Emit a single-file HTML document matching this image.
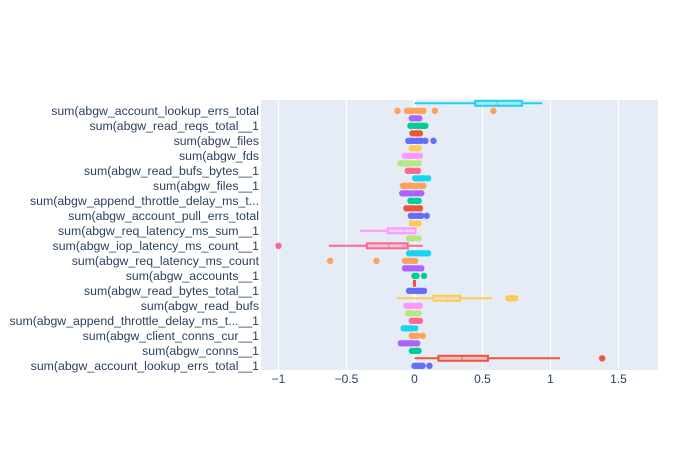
<!DOCTYPE html>
<html><head><meta charset="utf-8"><style>
body{margin:0;background:#fff;}
svg{display:block;font-family:"Liberation Sans",sans-serif;}
</style></head><body>
<svg id="chart" width="700" height="450">
<rect x="0" y="0" width="700" height="450" fill="#fff"/>
<rect x="261" y="100" width="397" height="270" fill="#e5ecf6"/>
<g id="grid"></g><g id="marks"></g><g id="xticks"></g><g id="ylabels"></g>
</svg>
<script>
const labels = ["sum(abgw_account_lookup_errs_total","sum(abgw_read_reqs_total__1","sum(abgw_files","sum(abgw_fds","sum(abgw_read_bufs_bytes__1","sum(abgw_files__1","sum(abgw_append_throttle_delay_ms_t...","sum(abgw_account_pull_errs_total","sum(abgw_req_latency_ms_sum__1","sum(abgw_iop_latency_ms_count__1","sum(abgw_req_latency_ms_count","sum(abgw_accounts__1","sum(abgw_read_bytes_total__1","sum(abgw_read_bufs","sum(abgw_append_throttle_delay_ms_t...__1","sum(abgw_client_conns_cur__1","sum(abgw_conns__1","sum(abgw_account_lookup_errs_total__1"];
const xTicks = [-1,-0.5,0,0.5,1,1.5];
const xTickLabels = ["\u22121","\u22120.5","0","0.5","1","1.5"];
// per trace, index 0 = bottom row
const boxLo  = [null,0,null,null,null,null,null,null,null,-0.13,null,-0.004,null,null,null,null,-0.63,null,-0.40,null,null,null,null,null,null,null,null,null,null,null,null,null,null,null,null,0];
const boxQ1  = [null,0.176,null,null,null,null,null,null,null,0.14,null,-0.004,null,null,null,null,-0.35,null,-0.196,null,null,null,null,null,null,null,null,null,null,null,null,null,null,null,null,0.446];
const boxMed = [null,0.35,null,null,null,null,null,null,null,0.245,null,0,null,null,null,null,-0.19,null,-0.076,null,null,null,null,null,null,null,null,null,null,null,null,null,null,null,null,0.61];
const boxQ3  = [null,0.54,null,null,null,null,null,null,null,0.335,null,0.004,null,null,null,null,-0.05,null,0.007,null,null,null,null,null,null,null,null,null,null,null,null,null,null,null,null,0.79];
const boxHi  = [null,1.07,null,null,null,null,null,null,null,0.57,null,0.004,null,null,null,null,0.06,null,0.007,null,null,null,null,null,null,null,null,null,null,null,null,null,null,null,null,0.94];
const points = [
 [0,0.015,0.03,0.045,0.06,0.11],[1.38],[-0.02,0,0.015,0.03],[-0.1,-0.08,-0.06,-0.04,-0.02,0,0.02],[-0.02,-0.005,0.01,0.02,0.06],
 [-0.08,-0.06,-0.04,-0.02,0.005],[-0.02,0,0.02,0.04],[-0.045,-0.03,-0.01,0.01,0.03],[-0.06,-0.04,-0.02,0,0.02,0.04],[0.69,0.705,0.72,0.74],
 [-0.04,-0.02,0,0.02,0.035,0.05,0.07],[],[0,0.015,0.07],[-0.07,-0.05,-0.03,-0.01,0.01,0.03,0.05],[-0.07,-0.05,-0.03,-0.01,0.005,-0.62,-0.28],
 [-0.04,-0.02,0,0.02,0.04,0.06,0.08,0.1],[-1],[-0.04,-0.02,0,0.03],[],[-0.02,0,0.015,0.03],
 [-0.027,-0.01,0.005,0.03,0.05,0.09],[-0.06,-0.04,-0.02,0,0.02,0.04],[-0.03,-0.01,0.01,0.03],[-0.09,-0.07,-0.05,-0.03,-0.01,0.01,0.03,0.05],[-0.085,-0.065,-0.045,-0.025,-0.005,0.015,0.04,0.065],
 [0.005,0.03,0.05,0.07,0.1],[-0.05,-0.03,-0.01,0.01,0.025],[-0.105,-0.085,-0.06,-0.04,-0.02,0,0.03],[-0.07,-0.05,-0.03,-0.01,0.01,0.03,0.04],[-0.02,0,0.015,0.03],
 [-0.045,-0.03,-0.01,0.01,0.03,0.05,0.08,0.14],[-0.015,0.005,0.02,0.04],[-0.03,-0.01,0.01,0.03,0.05,0.065,0.08],[-0.02,0,0.015,0.035],[-0.125,-0.055,-0.035,-0.015,0.005,0.025,0.045,0.065,0.15,0.58],
 []
];
const palette = ["#636efa","#EF553B","#00cc96","#ab63fa","#FFA15A","#19d3f3","#FF6692","#B6E880","#FF97FF","#FECB52"];
const NS="http://www.w3.org/2000/svg";
const X = v => 414.5 + v*136;
const Y = i => 365.8 - i*7.5;
function mk(tag, attrs, parent){const e=document.createElementNS(NS,tag);for(const k in attrs)e.setAttribute(k,attrs[k]);parent.appendChild(e);return e;}
const grid=document.getElementById('grid'), marks=document.getElementById('marks'), xt=document.getElementById('xticks'), yl=document.getElementById('ylabels');
xTicks.forEach((t,i)=>{
  const g=mk('line',{x1:X(t),x2:X(t),y1:100,y2:370,stroke:'#fff','stroke-width':t===0?2:1},grid);
  
  
  const tx=mk('text',{x:X(t),y:383,'text-anchor':'middle','font-size':12,fill:'#2a3f5f'},xt);
  tx.textContent=xTickLabels[i];
  
  
});
labels.forEach((l,k)=>{
  const row = 34 - k*2;
  const tx=mk('text',{x:259,y:Y(row)+4,'text-anchor':'end','font-size':12.3,fill:'#2a3f5f'},yl);
  tx.textContent=l;
  
  
});
points.forEach((pts,i)=>{
  const c=palette[i%10], y=Y(i);
  const g=mk('g',{},marks);
  
  
  if(boxLo[i]!==null){
    mk('line',{x1:X(boxLo[i]),x2:X(boxQ1[i]),y1:y,y2:y,stroke:c,'stroke-width':2},g);
    mk('line',{x1:X(boxQ3[i]),x2:X(boxHi[i]),y1:y,y2:y,stroke:c,'stroke-width':2},g);
    mk('rect',{x:X(boxQ1[i]),y:y-2.5,width:Math.max(1,X(boxQ3[i])-X(boxQ1[i])),height:5,fill:c,'fill-opacity':0.3,stroke:c,'stroke-width':2},g);
    mk('line',{x1:X(boxMed[i]),x2:X(boxMed[i]),y1:y-2.5,y2:y+2.5,stroke:c,'stroke-width':1.5,'stroke-opacity':0.6},g);
  }
  pts.forEach(p=>{
    const d=mk('circle',{cx:X(p),cy:y,r:3.2,fill:c},g);
    
    
  });
});
</script>
</body></html>
